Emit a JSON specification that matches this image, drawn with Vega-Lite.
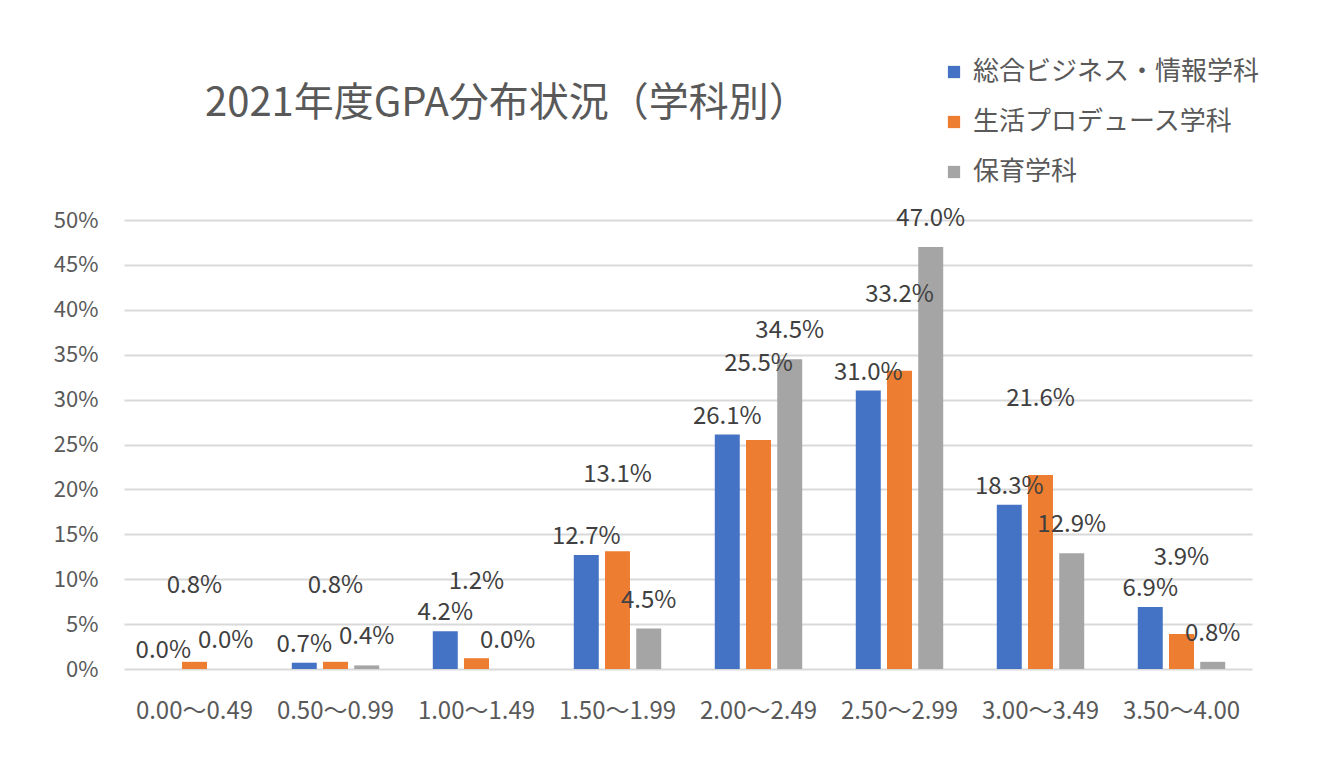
{
  "$schema": "https://vega.github.io/schema/vega-lite/v6.json",
  "width": 1128,
  "height": 449,
  "autosize": {"type": "none"},
  "padding": {"left": 124, "top": 220, "right": 76, "bottom": 92},
  "background": "white",
  "title": {
    "text": "2021年度GPA分布状況（学科別）",
    "anchor": "start",
    "frame": "group",
    "dx": 81,
    "offset": -65,
    "fontSize": 40,
    "fontWeight": "normal",
    "font": "Noto Sans CJK JP",
    "color": "#595959"
  },
  "config": {
    "view": {"stroke": null},
    "font": "Noto Sans CJK JP",
    "axis": {
      "labelFont": "Noto Sans CJK JP",
      "labelColor": "#595959",
      "labelFontSize": 22,
      "ticks": false,
      "domain": false,
      "title": null
    },
    "legend": {
      "labelFont": "Noto Sans CJK JP",
      "labelColor": "#595959",
      "labelFontSize": 26,
      "labelLimit": 500
    }
  },
  "data": {
    "values": [
      {"range": "0.00〜0.49", "dept": "総合ビジネス・情報学科", "value": 0.0},
      {"range": "0.00〜0.49", "dept": "生活プロデュース学科", "value": 0.008},
      {"range": "0.00〜0.49", "dept": "保育学科", "value": 0.0},
      {"range": "0.50〜0.99", "dept": "総合ビジネス・情報学科", "value": 0.007},
      {"range": "0.50〜0.99", "dept": "生活プロデュース学科", "value": 0.008},
      {"range": "0.50〜0.99", "dept": "保育学科", "value": 0.004},
      {"range": "1.00〜1.49", "dept": "総合ビジネス・情報学科", "value": 0.042},
      {"range": "1.00〜1.49", "dept": "生活プロデュース学科", "value": 0.012},
      {"range": "1.00〜1.49", "dept": "保育学科", "value": 0.0},
      {"range": "1.50〜1.99", "dept": "総合ビジネス・情報学科", "value": 0.127},
      {"range": "1.50〜1.99", "dept": "生活プロデュース学科", "value": 0.131},
      {"range": "1.50〜1.99", "dept": "保育学科", "value": 0.045},
      {"range": "2.00〜2.49", "dept": "総合ビジネス・情報学科", "value": 0.261},
      {"range": "2.00〜2.49", "dept": "生活プロデュース学科", "value": 0.255},
      {"range": "2.00〜2.49", "dept": "保育学科", "value": 0.345},
      {"range": "2.50〜2.99", "dept": "総合ビジネス・情報学科", "value": 0.310},
      {"range": "2.50〜2.99", "dept": "生活プロデュース学科", "value": 0.332},
      {"range": "2.50〜2.99", "dept": "保育学科", "value": 0.470},
      {"range": "3.00〜3.49", "dept": "総合ビジネス・情報学科", "value": 0.183},
      {"range": "3.00〜3.49", "dept": "生活プロデュース学科", "value": 0.216},
      {"range": "3.00〜3.49", "dept": "保育学科", "value": 0.129},
      {"range": "3.50〜4.00", "dept": "総合ビジネス・情報学科", "value": 0.069},
      {"range": "3.50〜4.00", "dept": "生活プロデュース学科", "value": 0.039},
      {"range": "3.50〜4.00", "dept": "保育学科", "value": 0.008}
    ]
  },
  "encoding": {
    "x": {
      "field": "range",
      "type": "nominal",
      "sort": null,
      "scale": {"paddingInner": 0.38, "paddingOuter": 0.19},
      "axis": {"labelAngle": 0, "labelPadding": 30, "labelFontSize": 24, "grid": false}
    },
    "xOffset": {
      "field": "dept",
      "type": "nominal",
      "scale": {"domain": ["総合ビジネス・情報学科", "生活プロデュース学科", "保育学科"], "paddingInner": 0.2}
    },
    "y": {
      "field": "value",
      "type": "quantitative",
      "scale": {"domain": [0, 0.5], "nice": false},
      "axis": {
        "values": [0, 0.05, 0.1, 0.15, 0.2, 0.25, 0.3, 0.35, 0.4, 0.45, 0.5],
        "format": ".0%",
        "grid": true,
        "gridColor": "#D9D9D9",
        "gridWidth": 2,
        "labelPadding": 26
      }
    }
  },
  "layer": [
    {
      "mark": {"type": "bar"},
      "encoding": {
        "color": {
          "field": "dept",
          "type": "nominal",
          "scale": {
            "domain": ["総合ビジネス・情報学科", "生活プロデュース学科", "保育学科"],
            "range": ["#4472C4", "#ED7D31", "#A5A5A5"]
          },
          "legend": {
            "title": null,
            "orient": "none",
            "legendX": 817,
            "legendY": -161,
            "symbolType": "square",
            "symbolSize": 150,
            "symbolStrokeWidth": 0,
            "labelOffset": 6,
            "rowPadding": 24
          }
        }
      }
    },
    {
      "transform": [{"filter": "datum.dept === '総合ビジネス・情報学科'"}],
      "mark": {"type": "text", "baseline": "bottom", "dy": -6, "fontSize": 24, "color": "#404040", "font": "Noto Sans CJK JP"},
      "encoding": {"text": {"field": "value", "type": "quantitative", "format": ".1%"}}
    },
    {
      "transform": [{"filter": "datum.dept === '保育学科'"}],
      "mark": {"type": "text", "baseline": "bottom", "dy": -16, "fontSize": 24, "color": "#404040", "font": "Noto Sans CJK JP"},
      "encoding": {"text": {"field": "value", "type": "quantitative", "format": ".1%"}}
    },
    {
      "transform": [{"filter": "datum.dept === '生活プロデュース学科'"}],
      "mark": {"type": "text", "baseline": "bottom", "dy": -64, "fontSize": 24, "color": "#404040", "font": "Noto Sans CJK JP"},
      "encoding": {"text": {"field": "value", "type": "quantitative", "format": ".1%"}}
    }
  ]
}
